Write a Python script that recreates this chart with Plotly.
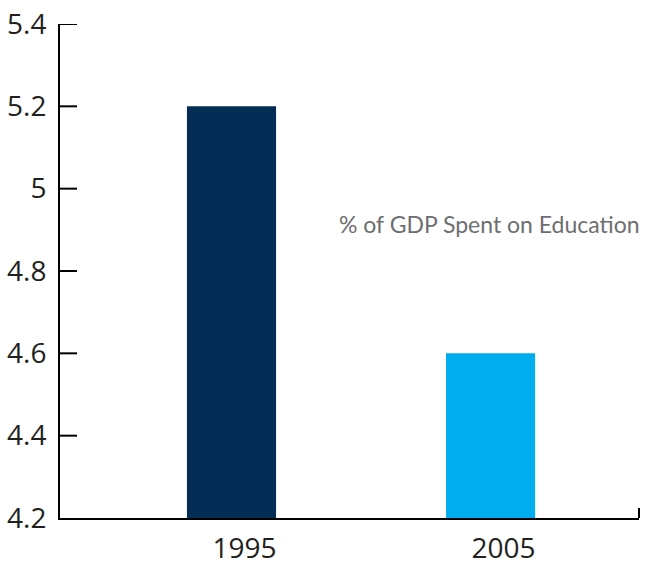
import plotly.graph_objects as go

years = ["1995", "2005"]
values = [5.2, 4.6]
colors = ["#032D55", "#00AEEF"]
y_ticks = [4.2, 4.4, 4.6, 4.8, 5.0, 5.2, 5.4]
y_tick_labels = ["4.2", "4.4", "4.6", "4.8", "5", "5.2", "5.4"]
label_text = "% of GDP Spent on Education"

xpos = list(range(len(years)))

fig = go.Figure()
fig.add_trace(go.Bar(
    x=xpos, y=[v - 4.2 for v in values], base=4.2,
    marker=dict(color=colors, line=dict(width=0)),
    width=0.344, showlegend=False,
))

tick_shapes = [dict(type="line", xref="paper", yref="y", x0=0, x1=17 / 579, y0=t, y1=t,
                    line=dict(color="black", width=2)) for t in y_ticks[1:]]

fig.update_layout(
    width=646, height=567,
    margin=dict(l=60, r=7, t=24, b=49, autoexpand=False),
    paper_bgcolor="white", plot_bgcolor="white",
    font=dict(family="Open Sans", size=28, color="#231F20"),
    xaxis=dict(
        range=[-0.662, 1.573], tickmode="array", tickvals=xpos, ticktext=years,
        showline=True, linecolor="black", linewidth=2, ticks="", showgrid=False,
        zeroline=False, ticklabelshift=13, automargin=False,
        ticklabeloverflow="allow", ticklabelstandoff=4,
    ),
    yaxis=dict(
        range=[4.2, 5.4], tickmode="array", tickvals=y_ticks, ticktext=y_tick_labels,
        showline=True, linecolor="black", linewidth=2, ticks="", showgrid=False,
        zeroline=False, automargin=False, ticklabeloverflow="allow",
        ticklabelstandoff=6,
    ),
    annotations=[dict(
        x=0.741, y=0.595, xref="paper", yref="paper", text=label_text, showarrow=False,
        font=dict(family="Lato", size=23, color="#6D6E71"), xanchor="center",
    )],
    shapes=tick_shapes + [dict(type="line", xref="paper", yref="paper", x0=1, x1=1,
                               y0=0, y1=0.02, line=dict(color="black", width=2))],
)

fig.write_html("out.html", config={"displayModeBar": False},
               post_script="document.body.style.margin='0';")
